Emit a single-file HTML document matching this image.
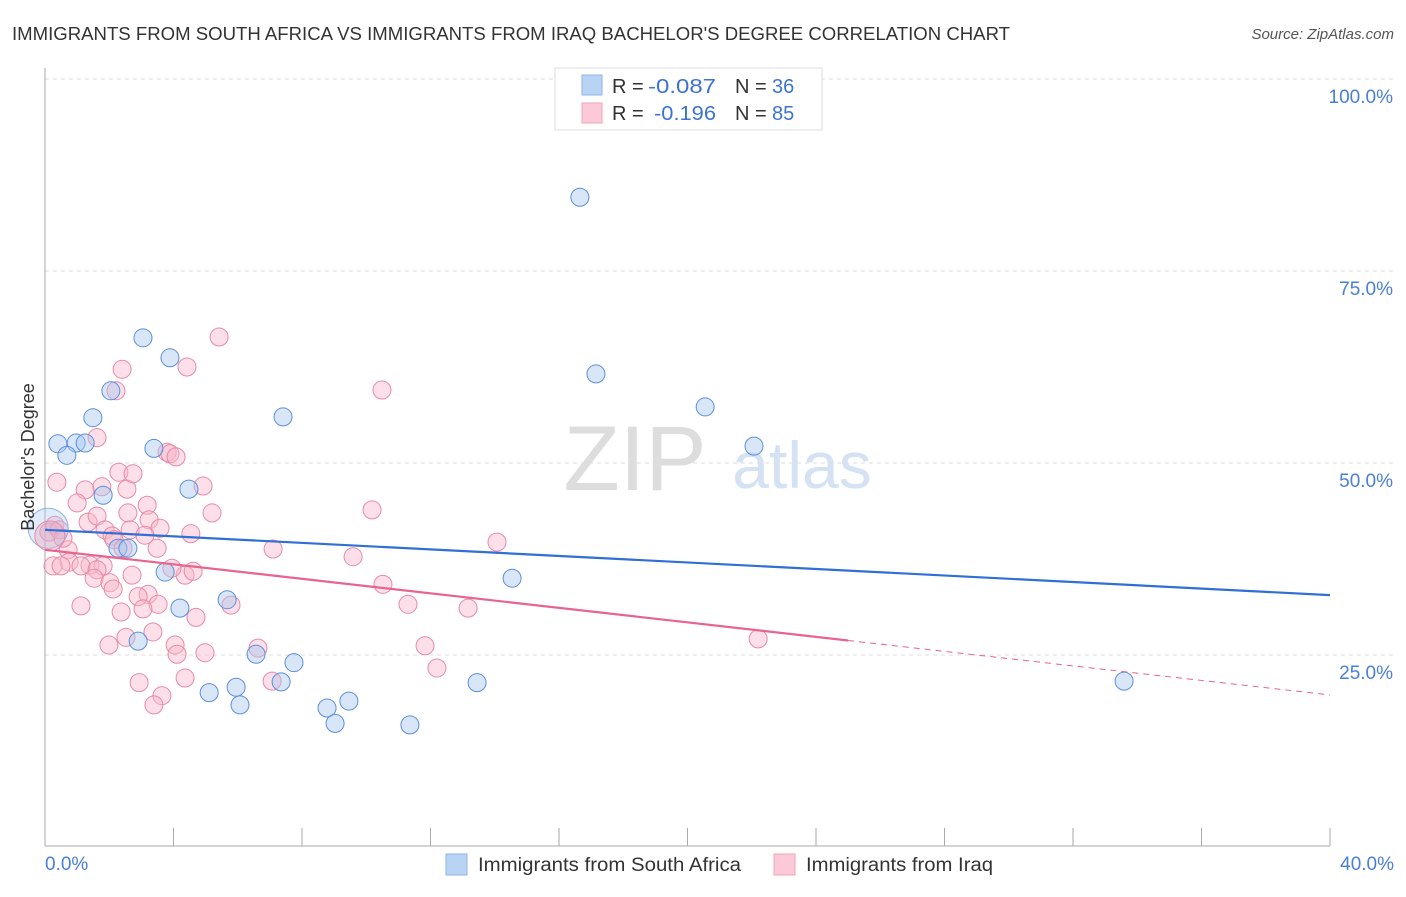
<!DOCTYPE html>
<html><head><meta charset="utf-8"><style>
body{margin:0;background:#fff;font-family:"Liberation Sans",sans-serif;}
svg text{font-family:"Liberation Sans",sans-serif;}
</style></head><body>
<svg id="chart" width="1406" height="892">
<text x="12" y="40" font-size="18" fill="#333" textLength="998" lengthAdjust="spacingAndGlyphs">IMMIGRANTS FROM SOUTH AFRICA VS IMMIGRANTS FROM IRAQ BACHELOR'S DEGREE CORRELATION CHART</text>
<text x="1394" y="39" font-size="15" fill="#555" font-style="italic" text-anchor="end">Source: ZipAtlas.com</text>
<g><text x="635" y="490" font-size="92" fill="#ddd" font-family="Liberation Serif" text-anchor="middle">ZIP</text><text x="802" y="488" font-size="66" fill="#d5e2f3" text-anchor="middle">atlas</text></g>
<g id="grid"></g><g id="axes"></g><g id="marks"></g>
<text transform="translate(34,457) rotate(-90)" font-size="18" fill="#333" text-anchor="middle">Bachelor's Degree</text>
<text x="45" y="870" font-size="19" fill="#4a7fd6">0.0%</text>
<text x="1394" y="870" font-size="19" fill="#4a7fd6" text-anchor="end">40.0%</text>
<g>
<rect x="555" y="68" width="267" height="62" fill="#fff" stroke="#ddd"/>
<rect x="582" y="75" width="20" height="20" fill="#b9d3f5" stroke="#8fb4e8"/>
<rect x="582" y="103" width="20" height="20" fill="#fbc9d8" stroke="#f1a3bb"/>
<text x="612" y="93" font-size="20" fill="#333">R =</text>
<text x="648" y="93" font-size="20" fill="#3d73d2" textLength="68" lengthAdjust="spacingAndGlyphs">-0.087</text>
<text x="735" y="93" font-size="20" fill="#333">N =</text>
<text x="772" y="93" font-size="20" fill="#3d73d2">36</text>
<text x="612" y="120" font-size="20" fill="#333">R =</text>
<text x="654" y="120" font-size="20" fill="#3d73d2" textLength="62" lengthAdjust="spacingAndGlyphs">-0.196</text>
<text x="735" y="120" font-size="20" fill="#333">N =</text>
<text x="772" y="120" font-size="20" fill="#3d73d2">85</text>
</g>
<g>
<rect x="446" y="854" width="21" height="21" fill="#b9d3f5" stroke="#8fb4e8"/>
<text x="478" y="871" font-size="19" fill="#333" textLength="263" lengthAdjust="spacingAndGlyphs">Immigrants from South Africa</text>
<rect x="774" y="854" width="21" height="21" fill="#fbc9d8" stroke="#f1a3bb"/>
<text x="806" y="871" font-size="19" fill="#333" textLength="187" lengthAdjust="spacingAndGlyphs">Immigrants from Iraq</text>
</g>
</svg>
<script>
const blueX=[3.05,3.89,2.05,1.49,0.40,0.97,1.25,0.68,3.39,1.81,4.48,2.27,2.58,3.74,4.20,2.90,5.67,6.57,5.11,5.95,6.07,7.35,7.75,8.78,9.46,9.03,11.36,13.45,14.54,16.65,17.15,20.55,22.07,33.59,7.41];
const blueY=[66.3,63.7,59.4,55.9,52.5,52.6,52.6,51.0,51.9,45.8,46.6,38.9,38.9,35.8,31.1,26.8,32.2,25.1,20.1,20.8,18.5,21.5,24.0,18.1,19.0,16.1,15.9,21.4,35.0,84.6,61.6,57.3,52.2,21.6,56.0];
const pinkX=[5.42,2.40,4.42,2.21,1.62,3.80,3.89,0.37,1.25,1.77,2.55,1.00,2.30,2.74,4.92,5.20,1.34,1.62,1.87,2.58,3.18,3.24,3.58,2.09,2.65,3.11,4.54,0.72,3.49,2.15,2.43,10.18,10.49,14.07,7.10,9.59,0.75,1.40,0.25,1.81,1.12,0.50,1.62,1.53,2.02,2.71,4.36,4.61,3.95,2.12,3.21,2.90,10.52,11.30,13.17,5.79,3.52,3.05,2.37,1.12,4.70,3.36,2.52,1.99,4.05,4.11,4.98,6.63,11.83,22.20,2.93,4.36,3.64,3.39,7.07,12.20,0.12,0.31,0.44,0.56,4.08];
const pinkY=[66.4,62.2,62.5,59.4,53.3,51.4,51.2,47.5,46.5,46.9,46.6,44.8,48.8,48.6,47.0,43.5,42.3,43.1,41.3,43.5,44.5,42.6,41.5,40.5,41.3,40.6,40.8,38.7,38.9,40.0,38.9,43.9,59.5,39.7,38.8,37.8,37.1,36.7,36.6,36.6,36.6,36.6,36.1,35.0,34.4,35.4,35.4,35.9,36.3,33.6,32.9,32.6,34.2,31.6,31.1,31.5,31.6,31.0,30.6,31.4,29.9,28.0,27.3,26.3,26.3,25.1,25.3,25.9,26.2,27.1,21.4,22.0,19.7,18.5,21.6,23.3,41.0,41.9,41.3,40.2,50.8];
const yTicks=[25,50,75,100];
const xTicks=[0,4,8,12,16,20,24,28,32,36,40];
const blueTrend=[41.3,32.8];
const pinkTrend=[38.7,19.8];
const pinkSolidEnd=25.0;
const NS='http://www.w3.org/2000/svg';
const sx=v=>45+v/40*1285, sy=v=>847-v/100*768;
function mk(t,a,p){const e=document.createElementNS(NS,t);for(const k in a)e.setAttribute(k,a[k]);p.appendChild(e);return e;}
const grid=document.getElementById('grid'),axes=document.getElementById('axes'),marks=document.getElementById('marks');
yTicks.forEach(t=>{
 const l=mk('line',{x1:45,x2:1394,y1:sy(t),y2:sy(t),stroke:'#ddd','stroke-dasharray':'4,4'},grid);
 
 
 const tx=mk('text',{x:1393,y:sy(t)+24,'font-size':19,fill:'#4a7fd6','text-anchor':'end'},grid);
 tx.textContent=t.toFixed(1)+'%';
 
 
});
const ya=mk('line',{x1:45,x2:45,y1:68,y2:846,stroke:'#aaa'},axes);


const xa=mk('line',{x1:45,x2:1330,y1:846,y2:846,stroke:'#aaa'},axes);


xTicks.forEach(t=>{const l=mk('line',{x1:sx(t),x2:sx(t),y1:828,y2:846,stroke:'#aaa'},axes);
 
 });
function pts(X,Y,fill,stroke,name){X.forEach((x,i)=>{const c=mk('circle',{cx:sx(x),cy:sy(Y[i]),r:9,fill:fill,'fill-opacity':0.45,stroke:stroke,'stroke-width':1},marks);
 
 });}
pts(pinkX,pinkY,'#f8b9cc','#e88aa8','iraq-point');
pts(blueX,blueY,'#a9c8f0','#5b8fdc','south-africa-point');
const bb=mk('circle',{cx:sx(0.1),cy:sy(41.5),r:20,fill:'#a9c8f0','fill-opacity':0.35,stroke:'#8fb4e8'},marks);


const pb=mk('circle',{cx:sx(0.15),cy:sy(40.5),r:15,fill:'#f0a0b8','fill-opacity':0.35,stroke:'#e88aa8'},marks);


const bl=mk('line',{x1:sx(0),y1:sy(blueTrend[0]),x2:sx(40),y2:sy(blueTrend[1]),stroke:'#2f6fd6','stroke-width':2.2},marks);


const pyAt=x=>pinkTrend[0]+(pinkTrend[1]-pinkTrend[0])*x/40;
const pl=mk('line',{x1:sx(0),y1:sy(pinkTrend[0]),x2:sx(pinkSolidEnd),y2:sy(pyAt(pinkSolidEnd)),stroke:'#e8638e','stroke-width':2.2},marks);


const pd=mk('line',{x1:sx(pinkSolidEnd),y1:sy(pyAt(pinkSolidEnd)),x2:sx(40),y2:sy(pinkTrend[1]),stroke:'#e8638e','stroke-width':1,'stroke-dasharray':'6,5'},marks);


</script>
</body></html>
